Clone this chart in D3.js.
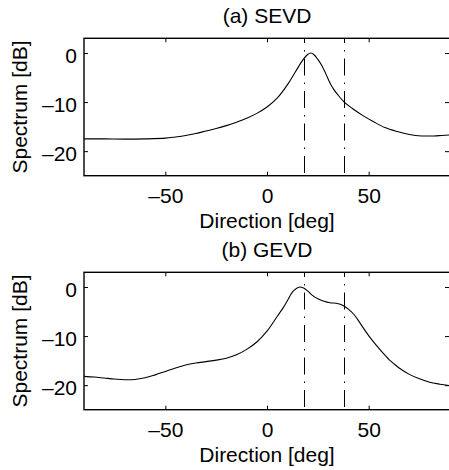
<!DOCTYPE html>
<html>
<head>
<meta charset="utf-8">
<script src="https://cdn.jsdelivr.net/npm/d3@7"></script>
<style>
  html, body { margin: 0; padding: 0; background: #fff; }
  svg { display: block; }
  text { font-family: "Liberation Sans", Arial, Helvetica, sans-serif; fill: #000; }
</style>
</head>
<body>
<svg id="chart" width="449" height="470"></svg>
<script>
// ---- data ----
const titles = ["(a) SEVD", "(b) GEVD"];
const xLabel = "Direction [deg]";
const yLabel = "Spectrum [dB]";
const xTicks = [-50, 0, 50];
const yTicks = [0, -10, -20];
const xDomain = [-90, 90];
const yDomain = [-25, 3];
const markerDirections = [18, 38];

const sevdDeg = [-90, -80, -70, -60, -50, -45, -40, -35, -30, -25, -20, -15, -10, -5, 0, 5, 10, 14, 18, 20, 21.5, 23, 25, 27, 29, 30.5, 31.5, 33, 35, 38, 42, 47, 52, 58, 64, 70, 76, 82, 86, 90];
const sevdDb  = [-17.5, -17.5, -17.55, -17.5, -17.35, -17.1, -16.8, -16.4, -15.9, -15.4, -14.8, -14.1, -13.3, -12.3, -11.0, -9.2, -6.5, -3.8, -1.2, -0.3, 0, -0.3, -1.3, -2.6, -4.3, -5.7, -6.5, -7.5, -8.6, -10.0, -11.3, -12.7, -13.9, -15.2, -16.0, -16.6, -16.9, -16.9, -16.8, -16.7];

const gevdDeg = [-90, -85, -80, -75, -70, -65, -60, -55, -50, -45, -40, -35, -30, -25, -20, -15, -10, -5, 0, 5, 8, 10, 13, 16, 18, 20, 22, 25, 28, 31, 34, 36, 38, 40, 43, 46, 50, 54, 58, 60, 62, 65, 70, 75, 80, 85, 90];
const gevdDb  = [-18.2, -18.35, -18.55, -18.75, -18.9, -18.85, -18.5, -17.9, -17.2, -16.5, -15.9, -15.5, -15.2, -14.9, -14.5, -13.8, -12.7, -11.2, -9.0, -6.0, -4.2, -2.8, -0.8, 0, -0.2, -0.8, -1.6, -2.4, -2.9, -3.2, -3.3, -3.5, -3.9, -4.5, -5.7, -7.5, -9.9, -12.0, -13.9, -14.8, -15.5, -16.5, -17.8, -18.7, -19.4, -19.8, -20.1];

const seriesX = [sevdDeg, gevdDeg];
const seriesY = [sevdDb, gevdDb];

// ---- layout ----
const svg = d3.select("#chart");
const left = 84, right = 450;
const panelTops = [38.3, 272.3];
const panelH = 137.4;
const fs = 21;
const fmt = d => d < 0 ? "\u2013" + Math.abs(d) : String(d);

const x = d3.scaleLinear().domain(xDomain).range([left, right]);

panelTops.forEach((top, i) => {
  const bottom = top + panelH;
  const y = d3.scaleLinear().domain(yDomain).range([bottom, top]);
  const g = svg.append("g");

  const clipId = "clip" + i;
  g.append("clipPath").attr("id", clipId)
    .append("rect").attr("x", left).attr("y", top).attr("width", right - left).attr("height", panelH);

  // marker lines (dash-dot)
  g.selectAll("line.marker").data(markerDirections).join("line")
    .attr("class", "marker")
    .attr("x1", d => Math.round(x(d)) + 0.5).attr("x2", d => Math.round(x(d)) + 0.5)
    .attr("y1", y(yDomain[1])).attr("y2", y(yDomain[0]))
    .attr("stroke", "#000").attr("stroke-width", 1)
    .attr("stroke-dasharray", "17,7,1.5,7")
    .attr("stroke-dashoffset", 12.3);

  // curve
  const pts = seriesX[i].map((d, j) => [d, seriesY[i][j]]);
  g.append("path").datum(pts)
    .attr("clip-path", `url(#${clipId})`)
    .attr("fill", "none").attr("stroke", "#000").attr("stroke-width", 1.1)
    .attr("d", d3.line().x(d => x(d[0])).y(d => y(d[1])).curve(d3.curveCatmullRom.alpha(0.5)));

  // axes
  const ax = g.append("g").attr("transform", `translate(0,${bottom})`)
    .call(d3.axisBottom(x).tickValues(xTicks).tickSizeInner(-4).tickSizeOuter(0).tickFormat(fmt));
  ax.selectAll("text").attr("y", 0).attr("dy", 27.8).style("font-size", fs + "px");
  const axT = g.append("g").attr("transform", `translate(0,${top})`)
    .call(d3.axisTop(x).tickValues(xTicks).tickSizeInner(-4).tickSizeOuter(0).tickFormat(""));
  const ay = g.append("g").attr("transform", `translate(${left},0)`)
    .call(d3.axisLeft(y).tickValues(yTicks).tickSizeInner(-4).tickSizeOuter(0).tickPadding(7).tickFormat(fmt));
  ay.selectAll("text").attr("dy", 9).style("font-size", fs + "px");
  const ayR = g.append("g").attr("transform", `translate(${right - 1},0)`)
    .call(d3.axisRight(y).tickValues(yTicks).tickSizeInner(-4).tickSizeOuter(0).tickFormat(""));
  [ax, axT, ay, ayR].forEach(a => {
    a.select(".domain").remove();
    a.selectAll("line").attr("stroke", "#000").attr("stroke-width", 1);
  });

  // frame
  g.append("rect").attr("x", left).attr("y", top).attr("width", right - left).attr("height", panelH)
    .attr("fill", "none").attr("stroke", "#000").attr("stroke-width", 1.4);

  // labels
  g.append("text").attr("x", (left + right) / 2).attr("y", top - 15.5)
    .attr("text-anchor", "middle").style("font-size", fs + "px").text(titles[i]);
  g.append("text").attr("x", (left + right) / 2).attr("y", bottom + 52.6)
    .attr("text-anchor", "middle").style("font-size", fs + "px").text(xLabel);
  g.append("text").attr("transform", `translate(26.5,${(top + bottom) / 2}) rotate(-90)`)
    .attr("text-anchor", "middle").style("font-size", fs + "px").text(yLabel);
});
</script>
</body>
</html>
